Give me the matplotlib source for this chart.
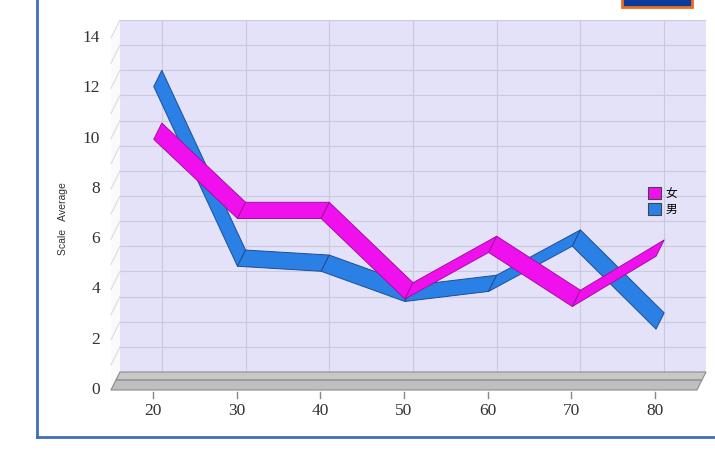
import matplotlib.pyplot as plt
from matplotlib.patches import Polygon, Rectangle, Patch
from matplotlib.lines import Line2D

# age groups and average scale per group
ages = [20, 30, 40, 50, 60, 70, 80]
female = [9.9, 6.75, 6.75, 3.55, 5.4, 3.25, 5.25]
male = [12.0, 4.85, 4.65, 3.45, 3.85, 5.65, 2.35]
yticks = [0, 2, 4, 6, 8, 10, 12, 14]
labels = ['女', '男']

fig = plt.figure(figsize=(7.15, 4.61), dpi=100)
fig.patch.set_facecolor('white')

ax = fig.add_axes([120/715, 89/461, 586/715, 352/461])
ax.set_xlim(15, 85)
ax.set_ylim(0, 14)
ax.set_facecolor('#e4e2f8')
for s in ax.spines.values():
    s.set_visible(False)
ax.set_xticks([])
ax.set_yticks([])

# depth of the 3d box, in data units
dx = -1.075
dy = -0.716

# back wall grid
for v in range(1, 15):
    ax.axhline(v, color='#cdc8e0', lw=0.8, zorder=1)
for a in ages:
    ax.axvline(a, color='#cdc8e0', lw=0.8, zorder=1)

# left side wall
side = Polygon([(15, 0), (15, 14), (15 + dx, 14 + dy), (15 + dx, dy)],
               closed=True, fc='#fafafa', ec='none', clip_on=False, zorder=1)
ax.add_patch(side)
for v in range(0, 15):
    ax.plot([15, 15 + dx], [v, v + dy], color='#dcdcdc', lw=0.8, clip_on=False, zorder=1)

# floor slab
mid = 0.45
top = Polygon([(15, 0), (85, 0), (85 + mid*dx, mid*dy), (15 + mid*dx, mid*dy)],
              closed=True, fc='#c8c8c8', ec='#8c8c8c', lw=0.8, clip_on=False, zorder=2)
front = Polygon([(15 + mid*dx, mid*dy), (85 + mid*dx, mid*dy), (85 + dx, dy), (15 + dx, dy)],
                closed=True, fc='#bfbfbf', ec='#8c8c8c', lw=0.8, clip_on=False, zorder=2)
ax.add_patch(top)
ax.add_patch(front)


# ribbon line: one polygon per segment between back and front edge
def ribbon(vals, fc, ec, z):
    f1, f2 = 0.0, 0.9
    for i in range(len(ages) - 1):
        x0, x1 = ages[i], ages[i+1]
        y0, y1 = vals[i], vals[i+1]
        pts = [(x0 + f1*dx, y0 + f1*dy), (x1 + f1*dx, y1 + f1*dy),
               (x1 + f2*dx, y1 + f2*dy), (x0 + f2*dx, y0 + f2*dy)]
        ax.add_patch(Polygon(pts, closed=True, fc=fc, ec=ec, lw=0.7,
                             joinstyle='round', zorder=z))


ribbon(male, '#2b80e6', '#1b4f94', 3)
ribbon(female, '#f010ee', '#a010a0', 4)

# axis labels on the front plane
for v in yticks:
    ax.text(15 + dx - 1.3, v + dy, str(v), ha='right', va='center',
            family='Liberation Serif', fontsize=12.5, color='#333333', clip_on=False)
for a in ages:
    ax.plot([a + dx, a + dx], [-0.8, -1.05], color='#888888', lw=1, clip_on=False)
    ax.text(a + dx, -1.55, str(a), ha='center', va='center',
            family='Liberation Serif', fontsize=12.5, color='#333333', clip_on=False)

fig.text(63/715, 1 - 219/461, 'Scale   Average', rotation=90, ha='center', va='center',
         family='Liberation Sans', fontsize=7.5, color='#333333')

# legend
handles = [Patch(fc='#f010ee', ec='#444444', lw=0.8), Patch(fc='#2b80e6', ec='#444444', lw=0.8)]
ax.legend(handles, labels, loc='upper left', bbox_to_anchor=(642/715, 1 - 181/461),
          bbox_transform=fig.transFigure, frameon=False, handlelength=1.1, handleheight=1.1,
          handletextpad=0.4, labelspacing=0.25, borderpad=0,
          prop={'family': ['Noto Sans CJK SC', 'DejaVu Sans'], 'size': 8.5})

# page frame
fig.add_artist(Line2D([37/715, 37/715], [1, 1 - 437/461], transform=fig.transFigure,
                      color='#3d6fc0', lw=2))
fig.add_artist(Line2D([37/715, 1], [1 - 437/461, 1 - 437/461], transform=fig.transFigure,
                      color='#3d6fc0', lw=2))
fig.add_artist(Rectangle((622/715, 1 - 7/461), 70/715, 12/461, transform=fig.transFigure,
                         fc='#0a3c9c', ec='#f06a1e', lw=2))

fig.savefig('out.png', dpi=100)
